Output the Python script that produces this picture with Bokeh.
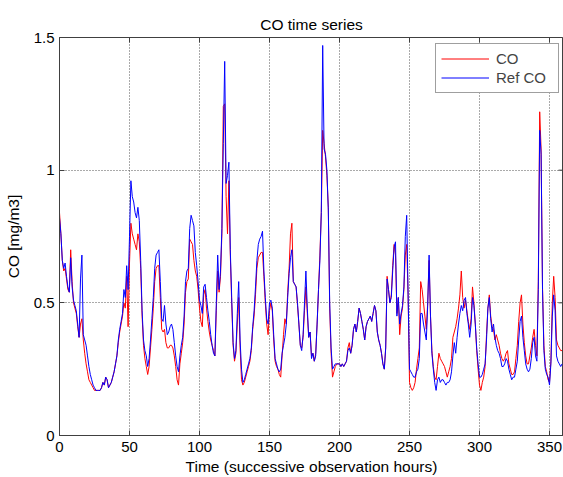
from bokeh.plotting import figure
from bokeh.models import Range1d, FixedTicker, NumeralTickFormatter
from bokeh.embed import file_html
from bokeh.resources import INLINE

hours = list(range(360))

co = [
    0.84, 0.76, 0.66, 0.62, 0.63, 0.59, 0.55, 0.54, 0.70, 0.58,
    0.50, 0.48, 0.46, 0.41, 0.37, 0.42, 0.44, 0.36, 0.31, 0.27,
    0.24, 0.21, 0.20, 0.19, 0.18, 0.17, 0.17, 0.17, 0.17, 0.17,
    0.18, 0.20, 0.19, 0.22, 0.21, 0.18, 0.19, 0.20, 0.22, 0.24,
    0.27, 0.30, 0.35, 0.39, 0.42, 0.45, 0.50, 0.48, 0.60, 0.41,
    0.65, 0.80, 0.76, 0.74, 0.72, 0.70, 0.76, 0.73, 0.63, 0.45,
    0.34, 0.29, 0.26, 0.23, 0.26, 0.33, 0.40, 0.48, 0.58, 0.63,
    0.64, 0.64, 0.52, 0.40, 0.39, 0.40, 0.35, 0.33, 0.33, 0.34,
    0.34, 0.33, 0.30, 0.26, 0.21, 0.19, 0.27, 0.31, 0.35, 0.42,
    0.54, 0.58, 0.59, 0.74, 0.73, 0.72, 0.66, 0.62, 0.60, 0.55,
    0.48, 0.43, 0.41, 0.53, 0.55, 0.48, 0.43, 0.39, 0.36, 0.34,
    0.32, 0.30, 0.47, 0.62, 0.54, 0.60, 0.76, 1.24, 1.25, 0.90,
    0.76, 0.96, 0.68, 0.50, 0.34, 0.28, 0.31, 0.42, 0.52, 0.33,
    0.21, 0.19, 0.20, 0.22, 0.24, 0.26, 0.28, 0.32, 0.40, 0.45,
    0.53, 0.63, 0.67, 0.68, 0.69, 0.69, 0.60, 0.50, 0.42, 0.38,
    0.47, 0.50, 0.47, 0.36, 0.28, 0.26, 0.25, 0.23, 0.22, 0.30,
    0.38, 0.44, 0.42, 0.54, 0.63, 0.76, 0.80, 0.58, 0.57, 0.56,
    0.49, 0.42, 0.34, 0.33, 0.37, 0.47, 0.56, 0.46, 0.37, 0.39,
    0.30, 0.31, 0.28, 0.31, 0.42, 0.55, 0.68, 0.84, 1.15, 1.10,
    1.05, 0.98, 0.86, 0.48, 0.31, 0.22, 0.24, 0.26, 0.27, 0.27,
    0.27, 0.26, 0.27, 0.26, 0.27, 0.28, 0.33, 0.35, 0.31, 0.34,
    0.40, 0.42, 0.39, 0.43, 0.48, 0.46, 0.43, 0.40, 0.36, 0.41,
    0.43, 0.44, 0.45, 0.43, 0.46, 0.49, 0.47, 0.39, 0.36, 0.34,
    0.31, 0.27, 0.25, 0.33, 0.60, 0.55, 0.50, 0.53, 0.64, 0.72,
    0.68, 0.46, 0.52, 0.38, 0.45, 0.48, 0.55, 0.68, 0.72, 0.53,
    0.20, 0.18, 0.17, 0.18, 0.20, 0.25, 0.29, 0.33, 0.58, 0.55,
    0.50, 0.45, 0.40, 0.50, 0.66, 0.45, 0.32, 0.26, 0.22, 0.21,
    0.26, 0.31, 0.29, 0.28, 0.27, 0.26, 0.24, 0.22, 0.24, 0.26,
    0.29, 0.37, 0.39, 0.41, 0.44, 0.48, 0.53, 0.62, 0.52, 0.48,
    0.51, 0.47, 0.43, 0.40, 0.44, 0.56, 0.50, 0.42, 0.32, 0.25,
    0.19, 0.17, 0.20, 0.22, 0.26, 0.38, 0.48, 0.53, 0.45, 0.41,
    0.40, 0.36, 0.38, 0.36, 0.34, 0.31, 0.29, 0.28, 0.29, 0.31,
    0.32, 0.27, 0.25, 0.23, 0.23, 0.24, 0.29, 0.34, 0.43, 0.50,
    0.53, 0.42, 0.35, 0.30, 0.27, 0.27, 0.30, 0.33, 0.37, 0.40,
    0.34, 0.30, 0.58, 1.22, 1.08, 0.56, 0.34, 0.26, 0.24, 0.21,
    0.20, 0.28, 0.50, 0.60, 0.52, 0.36, 0.34, 0.33, 0.32, 0.32,
]

ref_co = [
    0.82, 0.76, 0.66, 0.63, 0.65, 0.60, 0.56, 0.54, 0.67, 0.56,
    0.51, 0.49, 0.47, 0.42, 0.37, 0.59, 0.68, 0.38, 0.36, 0.34,
    0.30, 0.26, 0.23, 0.21, 0.19, 0.18, 0.17, 0.17, 0.17, 0.17,
    0.18, 0.20, 0.19, 0.22, 0.21, 0.18, 0.19, 0.20, 0.22, 0.24,
    0.27, 0.30, 0.36, 0.40, 0.43, 0.46, 0.55, 0.52, 0.64, 0.55,
    0.75, 0.96, 0.90, 0.88, 0.84, 0.82, 0.86, 0.81, 0.66, 0.47,
    0.36, 0.32, 0.30, 0.26, 0.29, 0.36, 0.44, 0.52, 0.63, 0.68,
    0.69, 0.70, 0.58, 0.44, 0.43, 0.49, 0.42, 0.38, 0.39, 0.41,
    0.42, 0.40, 0.35, 0.30, 0.26, 0.24, 0.30, 0.34, 0.37, 0.45,
    0.58, 0.62, 0.63, 0.78, 0.83, 0.81, 0.79, 0.69, 0.64, 0.58,
    0.51, 0.49, 0.46, 0.56, 0.57, 0.52, 0.47, 0.43, 0.38, 0.34,
    0.31, 0.30, 0.50, 0.68, 0.55, 0.62, 0.78, 1.10, 1.41, 0.95,
    0.98, 1.03, 0.70, 0.52, 0.35, 0.29, 0.32, 0.46, 0.58, 0.36,
    0.25, 0.20, 0.21, 0.23, 0.25, 0.27, 0.29, 0.33, 0.41, 0.47,
    0.56, 0.66, 0.72, 0.74, 0.75, 0.77, 0.62, 0.52, 0.44, 0.42,
    0.50, 0.51, 0.48, 0.38, 0.29, 0.27, 0.25, 0.24, 0.25, 0.31,
    0.34, 0.37, 0.42, 0.52, 0.61, 0.67, 0.70, 0.58, 0.57, 0.56,
    0.50, 0.42, 0.34, 0.32, 0.38, 0.50, 0.62, 0.48, 0.37, 0.39,
    0.29, 0.31, 0.28, 0.30, 0.42, 0.55, 0.66, 0.84, 1.47, 1.08,
    1.06, 1.00, 0.85, 0.50, 0.33, 0.25, 0.26, 0.27, 0.27, 0.27,
    0.27, 0.26, 0.27, 0.26, 0.27, 0.28, 0.32, 0.33, 0.31, 0.34,
    0.40, 0.42, 0.39, 0.43, 0.48, 0.46, 0.43, 0.40, 0.36, 0.41,
    0.43, 0.44, 0.45, 0.43, 0.46, 0.49, 0.47, 0.39, 0.36, 0.34,
    0.31, 0.27, 0.25, 0.33, 0.59, 0.55, 0.50, 0.52, 0.62, 0.71,
    0.73, 0.45, 0.52, 0.42, 0.46, 0.49, 0.56, 0.75, 0.83, 0.53,
    0.25, 0.24, 0.23, 0.22, 0.22, 0.24, 0.25, 0.29, 0.46, 0.46,
    0.42, 0.39, 0.36, 0.49, 0.68, 0.45, 0.31, 0.25, 0.20, 0.17,
    0.21, 0.22, 0.20, 0.21, 0.21, 0.20, 0.19, 0.20, 0.20, 0.21,
    0.24, 0.30, 0.35, 0.31, 0.37, 0.42, 0.46, 0.49, 0.47, 0.51,
    0.52, 0.46, 0.42, 0.37, 0.42, 0.52, 0.49, 0.42, 0.33, 0.27,
    0.22, 0.22, 0.23, 0.25, 0.27, 0.36, 0.48, 0.52, 0.44, 0.39,
    0.42, 0.37, 0.34, 0.32, 0.31, 0.29, 0.26, 0.26, 0.27, 0.29,
    0.28, 0.25, 0.23, 0.21, 0.22, 0.22, 0.25, 0.28, 0.36, 0.43,
    0.45, 0.37, 0.32, 0.27, 0.25, 0.24, 0.25, 0.29, 0.35, 0.37,
    0.30, 0.28, 0.55, 1.15, 1.06, 0.55, 0.32, 0.25, 0.23, 0.22,
    0.19, 0.27, 0.45, 0.53, 0.47, 0.30, 0.28, 0.27, 0.26, 0.27,
]

x_ticks = [0, 50, 100, 150, 200, 250, 300, 350]
y_ticks = [0, 0.5, 1, 1.5]

FONT = "Liberation Sans"
AXIS_COLOR = "#404040"
X_MAX, Y_MAX = 360, 1.5

p = figure(width=563, height=477, x_range=Range1d(0, X_MAX), y_range=Range1d(0, Y_MAX),
           output_backend="svg", toolbar_location=None,
           min_border_left=59, min_border_right=0, min_border_top=37, min_border_bottom=42,
           title="CO time series")

p.line(hours, co, line_color="#ff0000", line_width=1, legend_label="CO")
p.line(hours, ref_co, line_color="#0000ff", line_width=1, legend_label="Ref CO")

# inward tick marks on the top and right edges of the box (5 px long)
tick_dx = X_MAX * 5 / 503
tick_dy = Y_MAX * 5 / 398
p.segment(x0=x_ticks, y0=[Y_MAX] * len(x_ticks), x1=x_ticks, y1=[Y_MAX - tick_dy] * len(x_ticks),
          line_color=AXIS_COLOR, line_width=1)
p.segment(x0=[X_MAX] * len(y_ticks), y0=y_ticks, x1=[X_MAX - tick_dx] * len(y_ticks), y1=y_ticks,
          line_color=AXIS_COLOR, line_width=1)

p.title.text_font = FONT
p.title.text_font_size = "15.5px"
p.title.text_font_style = "normal"
p.title.align = "center"
p.title.text_color = "#000000"

for ax, ticks in ((p.xaxis[0], x_ticks), (p.yaxis[0], y_ticks)):
    ax.ticker = FixedTicker(ticks=ticks)
    ax.major_tick_in = 5
    ax.major_tick_out = 0
    ax.minor_tick_in = 0
    ax.minor_tick_out = 0
    ax.axis_line_color = AXIS_COLOR
    ax.major_tick_line_color = AXIS_COLOR
    ax.major_label_text_font = FONT
    ax.major_label_text_font_size = "15px"
    ax.major_label_text_color = "#000000"
    ax.axis_label_text_font = FONT
    ax.axis_label_text_font_size = "15.5px"
    ax.axis_label_text_font_style = "normal"
    ax.axis_label_text_color = "#000000"

p.xaxis[0].axis_label = "Time (successive observation hours)"
p.yaxis[0].axis_label = "CO [mg/m3]"
p.yaxis[0].formatter = NumeralTickFormatter(format="0.[0]")
p.xaxis[0].major_label_standoff = 6
p.xaxis[0].axis_label_standoff = 3
p.yaxis[0].major_label_standoff = 5
p.yaxis[0].axis_label_standoff = 9

p.xgrid.ticker = FixedTicker(ticks=x_ticks)
p.ygrid.ticker = FixedTicker(ticks=y_ticks)
for g in (p.xgrid[0], p.ygrid[0]):
    g.grid_line_color = "#555555"
    g.grid_line_dash = "1 2"
    g.grid_line_width = 1

p.outline_line_color = AXIS_COLOR
p.background_fill_color = "#ffffff"
p.border_fill_color = "#ffffff"

lg = p.legend[0]
lg.location = (376, 342)
lg.margin = 0
lg.padding = 5
lg.spacing = 0
lg.label_height = 19
lg.glyph_height = 19
lg.glyph_width = 48
lg.label_standoff = 7
lg.label_width = 57
lg.label_text_font = FONT
lg.label_text_font_size = "15px"
lg.border_line_color = AXIS_COLOR
lg.background_fill_alpha = 1.0

open("out.html", "w").write(file_html(p, INLINE))
